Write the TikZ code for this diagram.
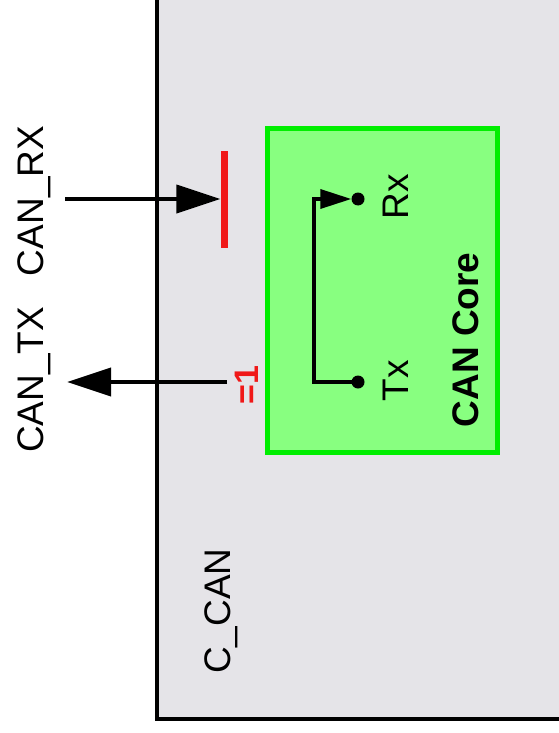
\documentclass[tikz,border=0pt]{standalone}
\usepackage{fontspec}
\setmainfont{Liberation Sans}
\usetikzlibrary{arrows.meta}
\definecolor{bggrey}{RGB}{229,228,232}
\definecolor{coregreen}{RGB}{136,255,128}
\definecolor{coreedge}{RGB}{0,238,0}
\definecolor{sigred}{RGB}{240,24,24}
\begin{document}
\begin{tikzpicture}[x=1pt,y=-1pt,
  lbl/.style={rotate=90,anchor=base,inner sep=0pt,font=\fontsize{37}{40}\selectfont},
  sig/.style={line width=4pt,-{Triangle[length=44pt,width=28pt]}},
  dot/.style={circle,fill=black,inner sep=0pt,minimum size=13pt},
  redbar/.style={fill=sigred,draw=none,inner sep=0pt,minimum width=7pt,minimum height=97pt}]
\useasboundingbox[fill=white] (0,0) rectangle (559,733);
% C_CAN block
\path[fill=bggrey,draw=black,line width=3.5pt] (157,-10) rectangle (575,719);
\node[lbl] (ccan) at (230,611) {C\_CAN};
% CAN Core block
\node[draw=coreedge,fill=coregreen,line width=5pt,minimum width=230pt,minimum height=323pt,inner sep=0pt] (core) at (382,290.5) {};
\node[lbl,font=\fontsize{37}{40}\selectfont\bfseries] (corelbl) at (478,340) {CAN Core};
\node[lbl] (rxl) at (408,197) {Rx};
\node[lbl] (txl) at (408,381) {Tx};
\node[dot] (rxd) at (358,199) {};
\node[dot] (txd) at (358,382) {};
\draw[line width=3.5pt,-{Triangle[length=31pt,width=19pt]}] (txd.center) -- ++(-44,0) |- (rxd);
% red bar and =1
\node[redbar] (bar) at (224,199) {};
\node[lbl,text=sigred,font=\fontsize{34}{36}\selectfont\bfseries] (eq) at (258,385) {=1};
% external signals
\node[lbl] (canrx) at (43,201) {CAN\_RX};
\node[lbl] (cantx) at (43,380) {CAN\_TX};
\coordinate (rxin) at (65,199);
\coordinate (txsrc) at (227,382);
\coordinate (txout) at (67,382);
\draw[sig] (rxin) -- (bar.west);
\draw[sig] (txsrc) -- (txout);
\end{tikzpicture}
\end{document}
